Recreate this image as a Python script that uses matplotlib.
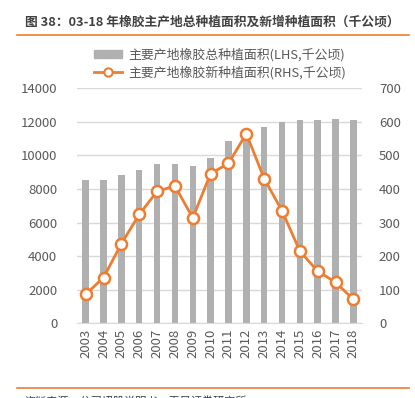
import numpy as np
import matplotlib.pyplot as plt
from matplotlib.lines import Line2D

plt.rcParams['font.family'] = ['Noto Sans CJK SC', 'DejaVu Sans']

# ==========================================
# data
# ==========================================
years = [str(y) for y in range(2003, 2019)]
total_area = [8550, 8550, 8820, 9110, 9470, 9470, 9390, 9840,
              10840, 11300, 11690, 11990, 12130, 12130, 12190, 12130]
new_area = [86, 136, 237, 324, 393, 409, 314, 446,
            476, 565, 431, 335, 215, 155, 122, 71]
left_ticks = [0, 2000, 4000, 6000, 8000, 10000, 12000, 14000]
right_ticks = [0, 100, 200, 300, 400, 500, 600, 700]

title = "图 38：03-18 年橡胶主产地总种植面积及新增种植面积（千公顷）"
label_bar = "主要产地橡胶总种植面积(LHS,千公顷)"
label_line = "主要产地橡胶新种植面积(RHS,千公顷)"
source = "资料来源：公司招股说明书，天风证券研究所"

orange = "#ed7d31"
grey_bar = "#b0b0b0"
tick_col = "#595959"

fig = plt.figure(figsize=(4.15, 3.98), dpi=100)
ax = fig.add_axes([0.185, 0.188, 0.688, 0.59])
ax2 = ax.twinx()

x = np.arange(len(years))
ax.bar(x, total_area, width=0.36, color=grey_bar, zorder=2)
ax.set_ylim(0, 14000)
ax.set_yticks(left_ticks)
ax.set_xlim(-0.5, len(years) - 0.5)
ax.set_xticks(x)
ax.set_xticklabels(years, rotation=90)
ax.grid(axis='y', color="#d9d9d9", linewidth=1, zorder=0)
ax.set_axisbelow(True)

ax2.plot(x, new_area, color=orange, linewidth=2, marker='o', markersize=8,
         markerfacecolor='white', markeredgecolor=orange, markeredgewidth=1.8, zorder=3)
ax2.set_ylim(0, 700)
ax2.set_yticks(right_ticks)

for a in (ax, ax2):
    for s in a.spines.values():
        s.set_visible(False)
    a.tick_params(length=0, labelsize=9.5, colors=tick_col)
ax.spines['bottom'].set_visible(True)
ax.spines['bottom'].set_color("#d9d9d9")
ax.tick_params(axis='y', pad=14)
ax2.tick_params(axis='y', pad=12)
ax.tick_params(axis='x', pad=4)

# legend
handles = [plt.Rectangle((0, 0), 1, 1, color=grey_bar),
           Line2D([], [], color=orange, linewidth=2, marker='o', markersize=6,
                  markerfacecolor='white', markeredgecolor=orange, markeredgewidth=1.5)]
fig.legend(handles, [label_bar, label_line], loc='center', bbox_to_anchor=(0.53, 0.84),
           frameon=False, fontsize=9.3, labelcolor=tick_col, handlelength=2.2,
           handleheight=0.6, labelspacing=0.35, handletextpad=0.5)

# title and rules
fig.text(0.06, 0.945, title, fontsize=9.2, fontweight='bold', color="#404040", va='center')
fig.add_artist(Line2D([0.04, 0.985], [0.912, 0.912], color=orange, linewidth=1.2))
fig.add_artist(Line2D([0.04, 0.985], [0.025, 0.025], color=orange, linewidth=1.2))
fig.text(0.06, -0.008, source, fontsize=8, color="#404040", va='center')

fig.savefig("out.png", dpi=100)
